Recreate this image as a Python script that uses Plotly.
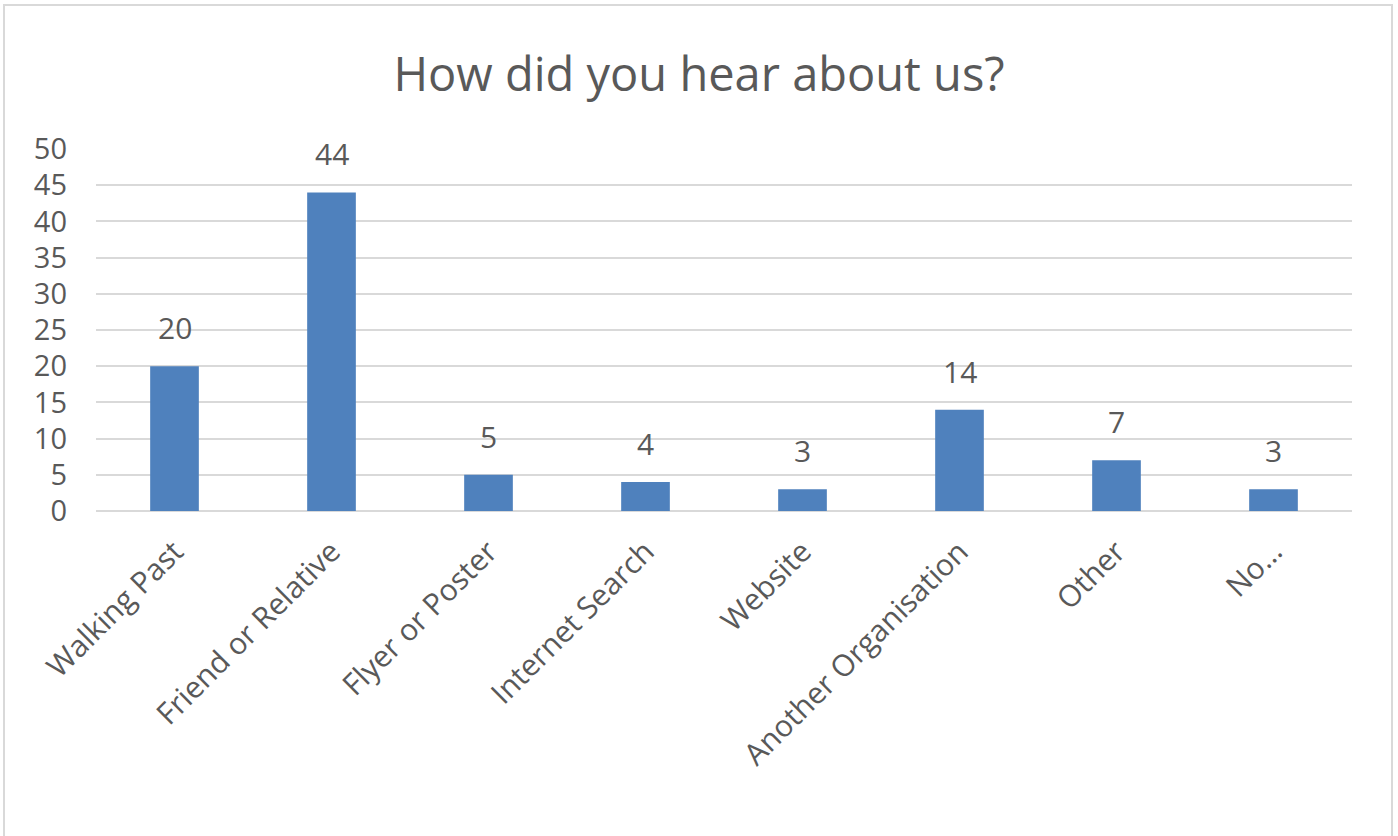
import plotly.graph_objects as go

categories = ["Walking Past", "Friend or Relative", "Flyer or Poster", "Internet Search",
              "Website", "Another Organisation", "Other", "No…"]
counts = [20, 44, 5, 4, 3, 14, 7, 3]
y_ticks = [0, 5, 10, 15, 20, 25, 30, 35, 40, 45, 50]

W, H = 1398, 836
L, R, T, B = 96, 46, 149, 325
pw, ph = W - L - R, H - T - B

text_color = "#595959"
grid_color = "#D9D9D9"
bar_color = "#4F81BD"
font_family = "Open Sans"

fig = go.Figure(go.Bar(
    x=categories, y=counts,
    marker=dict(color=bar_color, line=dict(width=0)),
    width=0.31,
))

for c, v in zip(categories, counts):
    fig.add_annotation(x=c, y=v, text=str(v), showarrow=False, yanchor="bottom",
                       yshift=16, font=dict(size=30, color=text_color, family=font_family))

# chart-area frame (bottom edge runs past the page)
fig.add_shape(type="rect", xref="paper", yref="paper",
              x0=(4 - L) / pw, x1=(1392 - L) / pw,
              y0=-(860 - T - ph) / ph, y1=(ph + T - 5) / ph,
              line=dict(color=grid_color, width=2), layer="below")

fig.update_layout(
    width=W, height=H,
    margin=dict(l=L, r=R, t=T, b=B),
    paper_bgcolor="white", plot_bgcolor="white",
    showlegend=False,
    title=dict(text="How did you hear about us?", x=0.5, xanchor="center",
               y=1 - 75 / H, yanchor="middle",
               font=dict(size=47, color=text_color, family=font_family)),
)
fig.update_xaxes(tickangle=-45, showgrid=False, showline=False, ticks="",
                 tickfont=dict(size=30, color=text_color, family=font_family),
                 ticklabelstandoff=16)
fig.update_yaxes(range=[0, 50], tickvals=y_ticks, showgrid=True, gridcolor=grid_color,
                 gridwidth=1.5, zeroline=True, zerolinecolor=grid_color, zerolinewidth=1.5,
                 showline=False, ticks="",
                 tickfont=dict(size=29, color=text_color, family=font_family),
                 ticklabelstandoff=28)

fig.write_html("out.html")
